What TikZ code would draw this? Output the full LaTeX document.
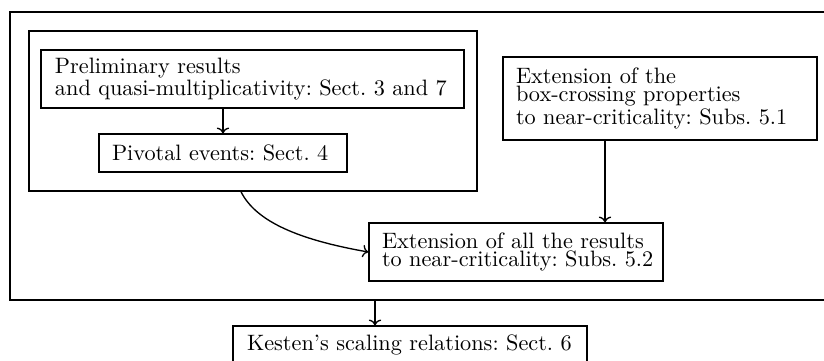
\documentclass[tikz,border=0pt]{standalone}
\usetikzlibrary{arrows.meta}
\newcommand\pxu{0.449pt}
\newcommand\boxfont{\fontsize{10}{8.2}\selectfont\exhyphenpenalty=10000\relax\hyphenpenalty=10000\relax}
\begin{document}
\begin{tikzpicture}[x=\pxu,y=-\pxu,
  box/.style={draw, line width=0.6pt, inner sep=0pt, align=left, font=\boxfont},
  frame/.style={draw, line width=0.6pt, inner sep=0pt},
  conn/.style={-{To[length=2.6pt,width=5.6pt]}, line width=0.6pt}]
\useasboundingbox (0,0) rectangle (824,360);
\node[frame, minimum width=824*\pxu, minimum height=288*\pxu] (outer) at (422,156) {};
\node[frame, minimum width=448*\pxu, minimum height=160*\pxu] (grp) at (253,111) {};
\node[box, minimum width=423*\pxu, minimum height=58*\pxu, text width=395*\pxu] (prelim) at (252.5,79)
  {Preliminary~results\\and~quasi-multiplicativity:~Sect.~3~and~7};
\node[box, minimum width=248*\pxu, minimum height=38*\pxu, text width=222*\pxu] (piv) at (223,153)
  {Pivotal~events:~Sect.~4};
\node[box, minimum width=314*\pxu, minimum height=83*\pxu, text width=288*\pxu] (e51) at (660,98.5)
  {Extension~of~the\\\mbox{box-crossing}~properties\\to~\mbox{near-criticality}:~Subs.~5.1};
\node[box, minimum width=294*\pxu, minimum height=58*\pxu, text width=268*\pxu] (e52) at (516,252)
  {Extension~of~all~the~results\\to~\mbox{near-criticality}:~Subs.~5.2};
\node[box, minimum width=354*\pxu, minimum height=38*\pxu, text width=326*\pxu] (kes) at (410,345)
  {Kesten's~scaling~relations:~Sect.~6};
\draw[conn] (piv.north |- prelim.south) -- (piv.north);
\draw[conn] (e51.south -| 605,0) -- (e52.north -| 605,0);
\draw[conn] (grp.south -| 241,0) .. controls (256,222) and (300,240) .. (e52.west);
\draw[conn] (outer.south -| 375,0) -- (kes.north -| 375,0);
\end{tikzpicture}
\end{document}
